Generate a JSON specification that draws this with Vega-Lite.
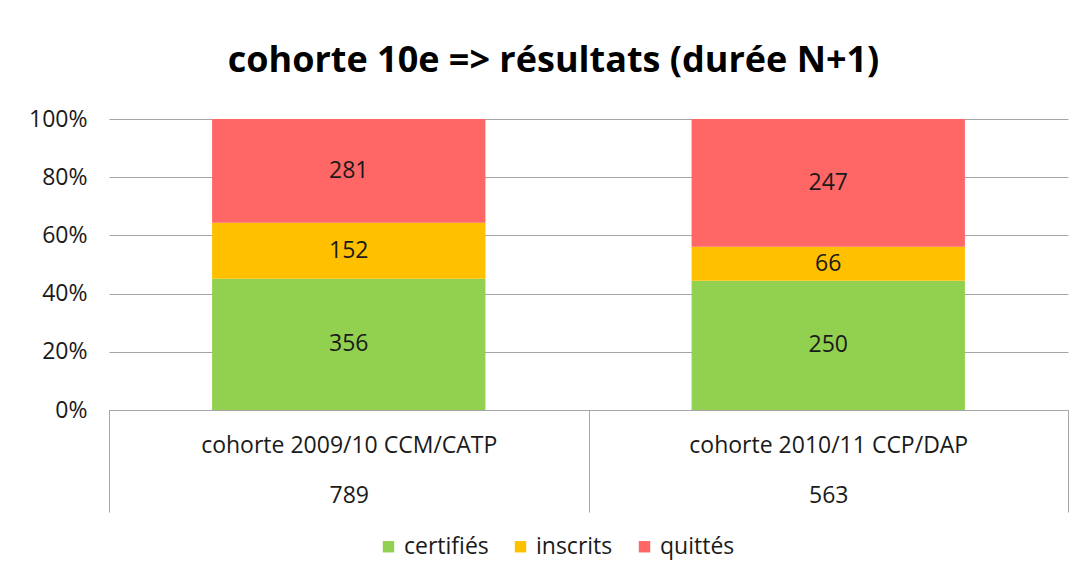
{
  "$schema": "https://vega.github.io/schema/vega-lite/v6.json",
  "width": 959,
  "height": 291,
  "autosize": {"type": "none"},
  "padding": {"left": 109, "top": 119, "right": 18, "bottom": 171},
  "background": "white",
  "title": {
    "text": "cohorte 10e => résultats (durée N+1)",
    "font": "Open Sans",
    "fontSize": 36,
    "fontWeight": "bold",
    "color": "#000000",
    "anchor": "middle",
    "dx": -35,
    "offset": 28
  },
  "data": {
    "values": [
      {"cohorte": "cohorte 2009/10 CCM/CATP", "statut": "certifiés", "n": 356},
      {"cohorte": "cohorte 2009/10 CCM/CATP", "statut": "inscrits", "n": 152},
      {"cohorte": "cohorte 2009/10 CCM/CATP", "statut": "quittés", "n": 281},
      {"cohorte": "cohorte 2010/11 CCP/DAP", "statut": "certifiés", "n": 250},
      {"cohorte": "cohorte 2010/11 CCP/DAP", "statut": "inscrits", "n": 66},
      {"cohorte": "cohorte 2010/11 CCP/DAP", "statut": "quittés", "n": 247}
    ]
  },
  "transform": [
    {"joinaggregate": [{"op": "sum", "field": "n", "as": "total"}], "groupby": ["cohorte"]},
    {"calculate": "datum.cohorte + '|' + datum.total", "as": "etiquette"}
  ],
  "encoding": {
    "x": {
      "field": "etiquette",
      "type": "nominal",
      "sort": null,
      "scale": {"paddingInner": 0, "paddingOuter": 0},
      "axis": {
        "title": null,
        "labelExpr": "datum.value ? split(datum.value, '|') : ''",
        "labelAngle": 0,
        "labelFont": "Open Sans",
        "labelFontSize": 23,
        "labelColor": "#1a1a1a",
        "labelLineHeight": 50,
        "labelPadding": -67,
        "labelBaseline": "middle",
        "labelLimit": 0,
        "tickBand": "extent",
        "ticks": true,
        "tickSize": 102,
        "tickColor": "#a6a6a6",
        "tickWidth": 1,
        "domainColor": "#a6a6a6",
        "domainWidth": 1,
        "grid": false
      }
    },
    "y": {
      "field": "n",
      "type": "quantitative",
      "aggregate": "sum",
      "stack": "normalize",
      "scale": {"domain": [0, 1]},
      "axis": {
        "title": null,
        "format": "%",
        "values": [0, 0.2, 0.4, 0.6, 0.8, 1],
        "labelFont": "Open Sans",
        "labelFontSize": 23,
        "labelColor": "#1a1a1a",
        "labelPadding": 22,
        "ticks": false,
        "domain": false,
        "grid": true,
        "gridColor": "#a6a6a6",
        "gridWidth": 1
      }
    }
  },
  "layer": [
    {
      "mark": {"type": "bar", "width": {"band": 0.57}},
      "encoding": {
        "color": {
          "field": "statut",
          "type": "nominal",
          "scale": {"domain": ["certifiés", "inscrits", "quittés"], "range": ["#92D050", "#FFC000", "#FF6666"]},
          "legend": {
            "title": null,
            "orient": "none",
            "direction": "horizontal",
            "legendX": 268,
            "legendY": 416,
            "symbolType": "square",
            "symbolSize": 130,
            "symbolStrokeWidth": 0,
            "symbolOpacity": 1,
            "labelFont": "Open Sans",
            "labelFontSize": 23,
            "labelColor": "#1a1a1a",
            "columnPadding": 20,
            "labelOffset": 4
          }
        },
        "order": {"field": "statut"}
      }
    },
    {
      "mark": {"type": "text", "font": "Open Sans", "fontSize": 23, "color": "#1a1a1a", "baseline": "middle"},
      "encoding": {
        "y": {"field": "n", "type": "quantitative", "aggregate": "sum", "stack": "normalize", "bandPosition": 0.5},
        "detail": {"field": "statut"},
        "order": {"field": "statut"},
        "text": {"field": "n", "aggregate": "sum", "type": "quantitative"}
      }
    }
  ],
  "config": {"view": {"stroke": null}}
}
